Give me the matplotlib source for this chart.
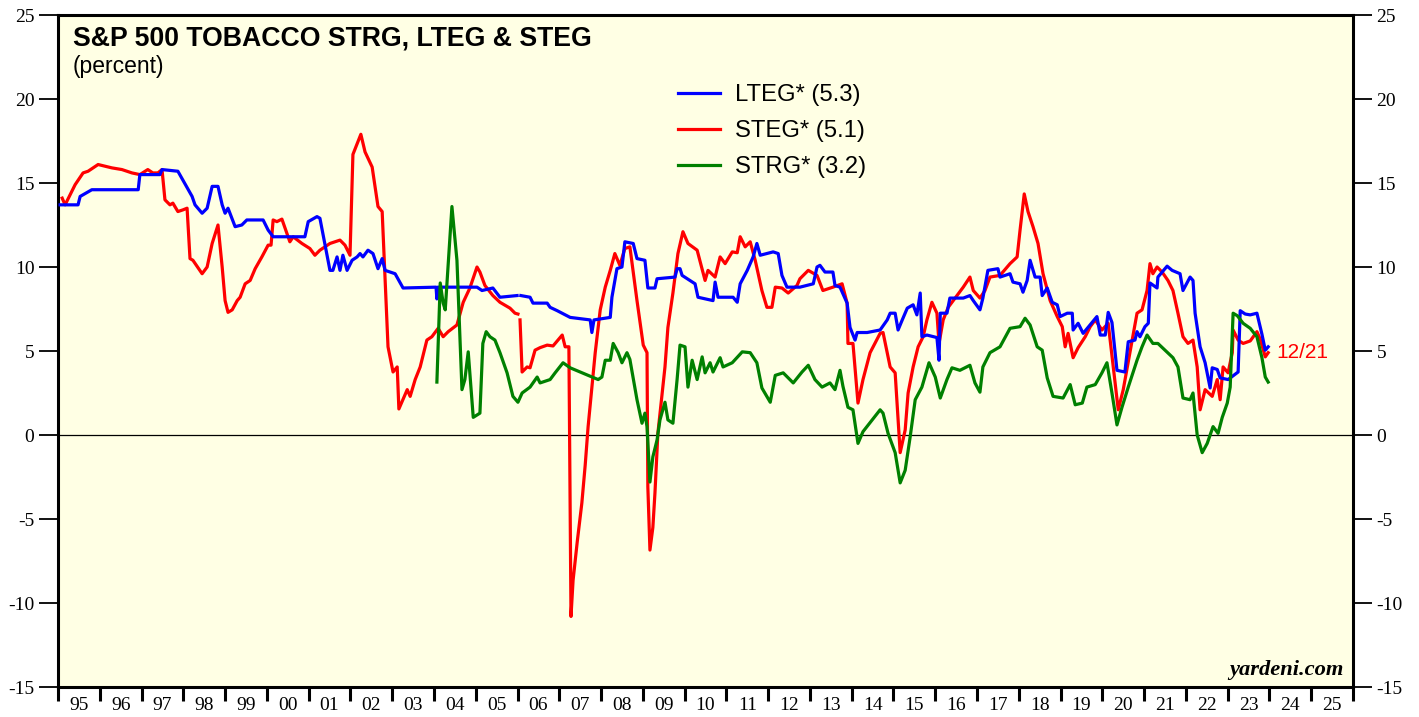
import numpy as np
import matplotlib
matplotlib.use("Agg")
import matplotlib.pyplot as plt
from matplotlib.ticker import FixedLocator, NullFormatter, FixedFormatter

plt.rcParams["axes.unicode_minus"] = False

# ---------------- data (decimal years, percent) ----------------
lteg_t = [1995.05, 1995.48, 1995.53, 1995.81, 1996.92, 1996.96, 1997.44, 1997.49, 1997.87,
          1998.21, 1998.28, 1998.45, 1998.57, 1998.69, 1998.83, 1998.93, 1999.00, 1999.07,
          1999.24, 1999.40, 1999.52, 1999.91, 2000.03, 2000.15, 2000.91, 2000.99, 2001.20,
          2001.27, 2001.51, 2001.58, 2001.68, 2001.75, 2001.82, 2001.92, 2002.04, 2002.16,
          2002.23, 2002.30, 2002.42, 2002.54, 2002.66, 2002.76, 2002.83, 2003.07, 2003.26,
          2004.05, 2004.07, 2004.09, 2005.03, 2005.15, 2005.41, 2005.58, 2005.99, 2006.03,
          2006.08, 2006.30, 2006.37, 2006.71, 2006.78, 2006.95, 2007.26, 2007.74, 2007.78,
          2007.83, 2008.22, 2008.26, 2008.38, 2008.50, 2008.57, 2008.77, 2008.86, 2009.05,
          2009.12, 2009.29, 2009.34, 2009.77, 2009.82, 2009.89, 2009.94, 2010.25, 2010.32,
          2010.68, 2010.73, 2010.80, 2011.16, 2011.26, 2011.33, 2011.50, 2011.64, 2011.73,
          2011.81, 2012.12, 2012.24, 2012.33, 2012.45, 2012.76, 2013.08, 2013.17, 2013.24,
          2013.36, 2013.55, 2013.60, 2013.72, 2013.89, 2013.96, 2014.08, 2014.13, 2014.37,
          2014.68, 2014.85, 2014.92, 2015.04, 2015.11, 2015.21, 2015.33, 2015.47, 2015.56,
          2015.64, 2015.68, 2015.80, 2016.04, 2016.09, 2016.12, 2016.28, 2016.35, 2016.67,
          2016.83, 2016.91, 2017.07, 2017.14, 2017.26, 2017.50, 2017.55, 2017.79, 2017.86,
          2018.03, 2018.10, 2018.20, 2018.27, 2018.39, 2018.51, 2018.56, 2018.68, 2018.80,
          2018.92, 2018.99, 2019.16, 2019.28, 2019.30, 2019.42, 2019.54, 2019.87, 2019.95,
          2020.07, 2020.14, 2020.23, 2020.35, 2020.54, 2020.62, 2020.78, 2020.83, 2020.90,
          2021.02, 2021.10, 2021.14, 2021.31, 2021.33, 2021.55, 2021.67, 2021.86, 2021.93,
          2022.10, 2022.17, 2022.22, 2022.34, 2022.46, 2022.58, 2022.63, 2022.75, 2022.82,
          2023.01, 2023.25, 2023.30, 2023.42, 2023.54, 2023.70, 2023.82, 2023.90, 2023.97]
lteg_v = [13.7, 13.7, 14.2, 14.6, 14.6, 15.5, 15.5, 15.8, 15.7,
          14.2, 13.7, 13.2, 13.5, 14.8, 14.8, 13.7, 13.2, 13.5,
          12.4, 12.5, 12.8, 12.8, 12.2, 11.8, 11.8, 12.7, 13.0,
          12.9, 9.8, 9.8, 10.6, 9.8, 10.7, 9.8, 10.4, 10.6,
          10.8, 10.6, 11.0, 10.8, 9.9, 10.5, 9.8, 9.6, 8.75,
          8.8, 8.1, 8.8, 8.8, 8.6, 8.75, 8.2, 8.3, np.nan,
          8.3, 8.2, 7.85, 7.85, 7.6, 7.4, 7.0, 6.85, 6.1,
          6.85, 7.0, 8.2, 9.9, 10.0, 11.5, 11.4, 10.5, 10.4,
          8.75, 8.75, 9.3, 9.4, 9.9, 9.9, 9.5, 9.0, 8.2,
          8.0, 9.1, 8.2, 8.2, 7.9, 9.0, 9.8, 10.6, 11.4,
          10.7, 10.9, 10.8, 9.5, 8.8, 8.8, 9.0, 10.0, 10.1,
          9.7, 9.7, 8.9, 8.8, 7.85, 6.4, 5.65, 6.1, 6.1,
          6.25, 6.85, 7.25, 7.25, 6.25, 6.85, 7.55, 7.75, 7.15,
          8.45, 5.85, 5.95, 5.8, 4.45, 7.25, 7.25, 8.15, 8.15,
          8.3, 8.0, 7.45, 8.15, 9.8, 9.9, 9.4, 9.6, 9.1,
          9.0, 8.5, 9.2, 10.4, 9.4, 9.4, 8.3, 8.75, 7.9,
          7.75, 7.05, 7.25, 7.25, 6.25, 6.65, 6.05, 7.05, 5.95,
          5.95, 7.3, 6.7, 3.85, 3.75, 5.55, 5.65, 6.15, 5.85,
          6.45, 6.65, 9.05, 8.75, 9.4, 10.05, 9.8, 9.6, 8.6,
          9.4, 9.2, 7.25, 5.25, 4.3, 2.8, 4.0, 3.9, 3.4,
          3.3, 3.75, 7.4, 7.2, 7.15, 7.25, 6.0, 5.05, 5.25]

steg_t = [1995.10, 1995.17, 1995.41, 1995.60, 1995.72, 1995.96, 1996.13, 1996.29, 1996.53,
          1996.77, 1996.96, 1997.15, 1997.27, 1997.39, 1997.49, 1997.56, 1997.68, 1997.75,
          1997.87, 1997.99, 1998.09, 1998.16, 1998.23, 1998.45, 1998.57, 1998.69, 1998.83,
          1998.93, 1999.00, 1999.07, 1999.17, 1999.29, 1999.36, 1999.48, 1999.60, 1999.72,
          1999.88, 2000.03, 2000.10, 2000.15, 2000.24, 2000.36, 2000.55, 2000.63, 2000.84,
          2001.03, 2001.15, 2001.27, 2001.51, 2001.75, 2001.87, 2001.99, 2002.06, 2002.25,
          2002.35, 2002.52, 2002.66, 2002.76, 2002.90, 2003.02, 2003.12, 2003.16, 2003.36,
          2003.43, 2003.55, 2003.67, 2003.83, 2003.95, 2004.10, 2004.22, 2004.34, 2004.55,
          2004.70, 2004.86, 2005.03, 2005.10, 2005.22, 2005.41, 2005.58, 2005.82, 2005.94,
          2006.01, 2006.03, 2006.06, 2006.11, 2006.23, 2006.30, 2006.42, 2006.54, 2006.71,
          2006.85, 2007.07, 2007.14, 2007.23, 2007.28, 2007.33, 2007.43, 2007.54, 2007.62,
          2007.69, 2007.78, 2007.86, 2007.98, 2008.10, 2008.22, 2008.33, 2008.45, 2008.57,
          2008.69, 2008.86, 2009.01, 2009.10, 2009.12, 2009.17, 2009.24, 2009.29, 2009.36,
          2009.53, 2009.60, 2009.72, 2009.84, 2009.96, 2010.08, 2010.30, 2010.49, 2010.56,
          2010.73, 2010.85, 2010.97, 2011.14, 2011.26, 2011.33, 2011.45, 2011.57, 2011.69,
          2011.85, 2011.97, 2012.09, 2012.17, 2012.33, 2012.48, 2012.69, 2012.76, 2012.96,
          2013.17, 2013.31, 2013.55, 2013.77, 2013.89, 2013.91, 2014.03, 2014.15, 2014.27,
          2014.44, 2014.68, 2014.75, 2014.92, 2015.04, 2015.16, 2015.28, 2015.35, 2015.47,
          2015.59, 2015.71, 2015.80, 2015.92, 2016.04, 2016.09, 2016.19, 2016.31, 2016.52,
          2016.67, 2016.83, 2016.91, 2017.07, 2017.19, 2017.31, 2017.55, 2017.79, 2017.96,
          2018.03, 2018.13, 2018.22, 2018.34, 2018.46, 2018.58, 2018.75, 2018.92, 2019.04,
          2019.11, 2019.18, 2019.30, 2019.42, 2019.59, 2019.71, 2019.83, 2019.99, 2020.14,
          2020.26, 2020.38, 2020.50, 2020.66, 2020.83, 2020.95, 2021.07, 2021.14, 2021.21,
          2021.31, 2021.43, 2021.57, 2021.69, 2021.81, 2021.93, 2022.05, 2022.17, 2022.27,
          2022.34, 2022.46, 2022.63, 2022.75, 2022.82, 2022.89, 2023.01, 2023.11, 2023.13,
          2023.25, 2023.37, 2023.54, 2023.70, 2023.78, 2023.90, 2023.97]
steg_v = [14.1, 13.7, 14.9, 15.6, 15.7, 16.1, 16.0, 15.9, 15.8,
          15.6, 15.5, 15.8, 15.6, 15.6, 15.8, 14.0, 13.7, 13.8,
          13.3, 13.4, 13.5, 10.5, 10.4, 9.6, 10.0, 11.4, 12.5,
          10.0, 8.0, 7.3, 7.45, 8.0, 8.2, 9.0, 9.2, 9.9,
          10.6, 11.3, 11.3, 12.8, 12.7, 12.85, 11.5, 11.8, 11.4,
          11.1, 10.7, 11.0, 11.4, 11.6, 11.3, 10.7, 16.7, 17.9,
          16.85, 15.95, 13.6, 13.3, 5.25, 3.75, 4.05, 1.55, 2.7,
          2.3, 3.3, 4.05, 5.65, 5.85, 6.35, 5.85, 6.15, 6.55,
          7.9, 8.75, 10.0, 9.7, 8.9, 8.3, 7.9, 7.55, 7.25,
          7.2, np.nan, 6.85, 3.75, 4.05, 4.0, 5.05, 5.2, 5.35,
          5.3, 5.95, 5.25, 5.25, -10.8, -8.65, -6.35, -4.05, -1.8,
          0.5, 2.8, 4.9, 7.45, 8.8, 9.8, 10.8, 10.1, 11.1,
          11.2, 8.0, 5.35, 4.9, -3.1, -6.85, -5.5, -3.45, 0.1,
          4.05, 6.4, 8.45, 10.8, 12.1, 11.4, 11.0, 9.2, 9.8,
          9.4, 10.6, 10.2, 10.9, 10.85, 11.8, 11.2, 11.5, 10.4,
          8.6, 7.6, 7.6, 8.8, 8.75, 8.45, 8.9, 9.3, 9.8,
          9.5, 8.6, 8.8, 9.0, 7.85, 5.45, 5.45, 1.9, 3.3,
          4.9, 6.05, 6.1, 4.05, 3.7, -1.05, 0.3, 2.5, 4.05,
          5.25, 5.85, 6.85, 7.9, 7.25, 5.45, 6.85, 7.6, 8.3,
          8.8, 9.4, 8.6, 8.15, 8.6, 9.4, 9.5, 10.2, 10.6,
          12.2, 14.35, 13.3, 12.4, 11.4, 9.6, 8.0, 7.05, 6.45,
          5.25, 6.05, 4.6, 5.2, 5.85, 6.45, 6.85, 6.25, 6.65,
          4.05, 1.5, 2.7, 4.9, 7.25, 7.45, 8.6, 10.2, 9.6,
          10.0, 9.7, 9.2, 8.6, 7.25, 5.85, 5.45, 5.65, 4.05,
          1.5, 2.7, 2.3, 3.3, 2.1, 4.05, 3.7, 4.9, 6.25,
          5.65, 5.45, 5.6, 6.15, 5.7, 4.65, 4.9]

strg_t = [2004.07, 2004.15, 2004.22, 2004.27, 2004.43, 2004.55, 2004.67, 2004.74, 2004.82,
          2004.94, 2005.10, 2005.17, 2005.25, 2005.34, 2005.46, 2005.58, 2005.75, 2005.89,
          2006.01, 2006.11, 2006.30, 2006.47, 2006.54, 2006.78, 2006.90, 2007.09, 2007.26,
          2007.93, 2008.02, 2008.10, 2008.22, 2008.29, 2008.41, 2008.50, 2008.62, 2008.69,
          2008.86, 2008.98, 2009.05, 2009.10, 2009.17, 2009.24, 2009.34, 2009.41, 2009.53,
          2009.60, 2009.72, 2009.82, 2009.89, 2010.01, 2010.08, 2010.18, 2010.30, 2010.42,
          2010.49, 2010.61, 2010.68, 2010.85, 2010.92, 2011.14, 2011.38, 2011.57, 2011.73,
          2011.85, 2012.05, 2012.17, 2012.36, 2012.60, 2012.81, 2012.96, 2013.12, 2013.29,
          2013.48, 2013.60, 2013.72, 2013.79, 2013.91, 2014.03, 2014.15, 2014.27, 2014.49,
          2014.68, 2014.75, 2014.87, 2015.04, 2015.16, 2015.28, 2015.40, 2015.52, 2015.68,
          2015.85, 2016.00, 2016.12, 2016.28, 2016.40, 2016.59, 2016.83, 2016.95, 2017.07,
          2017.14, 2017.31, 2017.55, 2017.79, 2018.03, 2018.15, 2018.27, 2018.44, 2018.56,
          2018.68, 2018.82, 2019.06, 2019.23, 2019.35, 2019.52, 2019.63, 2019.83, 2019.99,
          2020.11, 2020.23, 2020.35, 2020.47, 2020.62, 2020.83, 2020.95, 2021.07, 2021.21,
          2021.33, 2021.50, 2021.69, 2021.81, 2021.93, 2022.10, 2022.17, 2022.27, 2022.39,
          2022.51, 2022.65, 2022.77, 2022.87, 2022.99, 2023.06, 2023.13, 2023.23, 2023.37,
          2023.54, 2023.70, 2023.82, 2023.90, 2023.97]
strg_v = [3.15, 9.05, 7.85, 7.45, 13.6, 10.4, 2.7, 3.3, 4.95,
          1.05, 1.3, 5.45, 6.15, 5.85, 5.65, 4.9, 3.7, 2.3,
          1.95, 2.5, 2.85, 3.45, 3.1, 3.3, 3.7, 4.3, 4.0,
          3.3, 3.45, 4.45, 4.45, 5.45, 4.9, 4.3, 4.9, 4.5,
          2.1, 0.7, 1.3, 0.5, -2.8, -1.3, -0.3, 0.9, 1.95,
          0.9, 0.7, 3.3, 5.35, 5.25, 2.85, 4.45, 3.3, 4.65,
          3.7, 4.3, 3.75, 4.6, 4.05, 4.3, 4.95, 4.9, 4.3,
          2.8, 1.95, 3.55, 3.7, 3.1, 3.75, 4.15, 3.3, 2.85,
          3.1, 2.7, 3.85, 2.9, 1.65, 1.5, -0.5, 0.2, 0.9,
          1.5, 1.3, 0.1, -1.05, -2.85, -2.1, -0.1, 2.1, 2.85,
          4.3, 3.45, 2.2, 3.3, 4.0, 3.85, 4.15, 3.1, 2.55,
          4.05, 4.9, 5.25, 6.35, 6.45, 6.95, 6.55, 5.25, 5.05,
          3.4, 2.3, 2.2, 3.0, 1.8, 1.9, 2.85, 3.0, 3.7,
          4.3, 2.5, 0.6, 1.65, 2.85, 4.45, 5.25, 5.95, 5.45,
          5.45, 5.05, 4.6, 4.05, 2.2, 2.1, 2.5, 0.0, -1.05,
          -0.5, 0.5, 0.1, 1.05, 1.9, 2.85, 7.25, 7.1, 6.65,
          6.35, 5.85, 4.6, 3.45, 3.15]

series_labels = ["LTEG* (5.3)", "STEG* (5.1)", "STRG* (3.2)"]
year_ticks = list(range(1995, 2027))
year_labels = [f"{y % 100:02d}" for y in range(1995, 2026)]
y_ticks = list(range(-15, 30, 5))
last_date_label = "12/21"

# ---------------- figure ----------------
W, H = 1419, 717
fig = plt.figure(figsize=(W / 100, H / 100), dpi=100)
ax = fig.add_axes([58 / W, 30 / H, (1353 - 58) / W, (687 - 15) / H])
ax.set_facecolor("#FFFFE4")

serif = ["Liberation Serif", "DejaVu Serif"]
sans = ["Liberation Sans", "DejaVu Sans"]

lw = 2.3
l_steg, = ax.plot(steg_t, steg_v, color="#FF0000", lw=lw, solid_joinstyle="round", zorder=3)
l_lteg, = ax.plot(lteg_t, lteg_v, color="#0000FF", lw=lw, solid_joinstyle="round", zorder=4)
l_strg, = ax.plot(strg_t, strg_v, color="#008000", lw=lw, solid_joinstyle="round", zorder=5)
ax.axhline(0, color="black", lw=0.9, zorder=2)

ax.set_xlim(1995, 2026)
ax.set_ylim(-15, 25)

for s in ax.spines.values():
    s.set_linewidth(2.2)
    s.set_color("black")

# y ticks both sides
ax.yaxis.set_major_locator(FixedLocator(y_ticks))
ax.tick_params(axis="y", which="major", direction="out", length=14, width=1.3,
               left=True, right=True, labelleft=True, labelright=True, pad=3)
for lab in ax.get_yticklabels():
    lab.set_fontfamily(serif)
    lab.set_fontsize(14)

# x ticks at year boundaries, labels at mid-year
ax.xaxis.set_major_locator(FixedLocator(year_ticks))
ax.xaxis.set_major_formatter(NullFormatter())
ax.xaxis.set_minor_locator(FixedLocator([y + 0.5 for y in range(1995, 2026)]))
ax.xaxis.set_minor_formatter(FixedFormatter(year_labels))
ax.tick_params(axis="x", which="major", direction="out", length=10, width=2.2)
ax.tick_params(axis="x", which="minor", length=0, pad=7)
for lab in ax.xaxis.get_minorticklabels():
    lab.set_fontfamily(serif)
    lab.set_fontsize(14)
    lab.set_va("top")

# titles
ax.text(0.0115, 0.984, "S&P 500 TOBACCO STRG, LTEG & STEG", transform=ax.transAxes,
        ha="left", va="top", fontsize=19.2, fontweight="bold", family=sans)
ax.text(0.0115, 0.94, "(percent)", transform=ax.transAxes,
        ha="left", va="top", fontsize=16.5, family=sans)

ax.text(0.993, 0.011, "yardeni.com", transform=ax.transAxes, ha="right", va="bottom",
        fontsize=16.2, fontweight="bold", fontstyle="italic", family=serif)

# legend
leg = ax.legend([l_lteg, l_steg, l_strg], series_labels, loc="upper left",
                bbox_to_anchor=(0.4788, 0.897), frameon=False, fontsize=17.2,
                handlelength=1.75, handletextpad=0.62, labelspacing=0.58,
                borderaxespad=0, borderpad=0)
for t in leg.get_texts():
    t.set_fontfamily(sans)

# end label
ax.annotate(last_date_label, xy=(steg_t[-1], steg_v[-1]), xytext=(6, 0),
            textcoords="offset points", color="#FF0000", fontsize=15, family=sans,
            ha="left", va="center")

fig.savefig("out.png", dpi=100)
